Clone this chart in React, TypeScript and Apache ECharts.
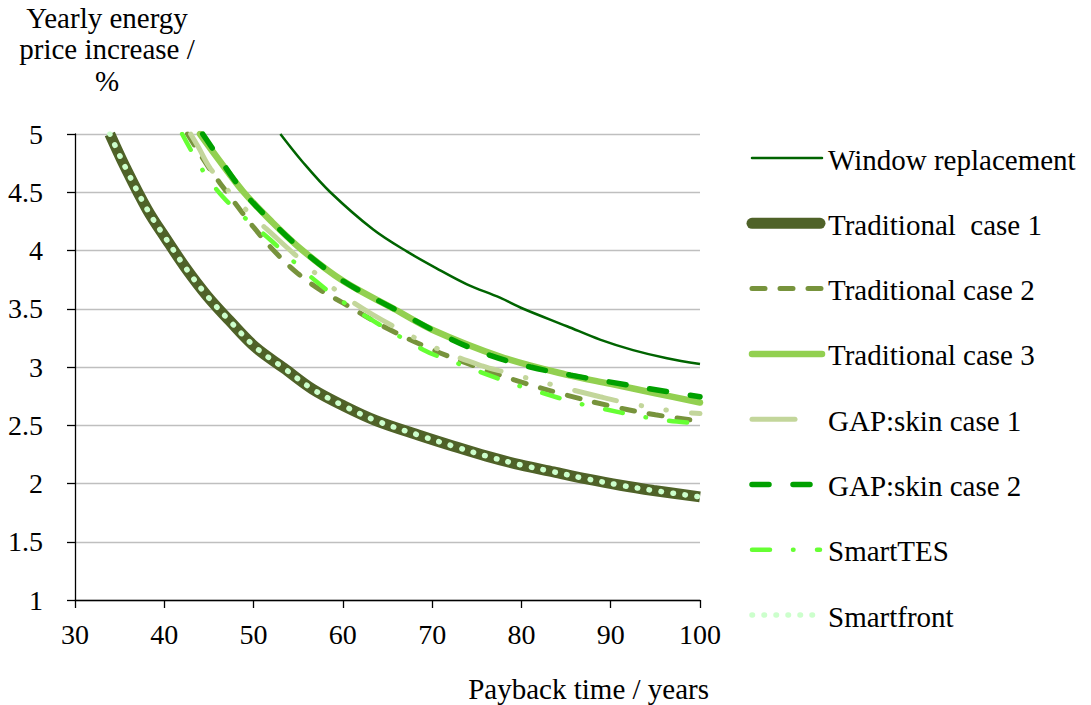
import React, { useEffect, useRef } from "react";
import * as echarts from "echarts";

const FONT = "Times New Roman";

// ---- axis ticks ----
const xTicks = { min: 30, max: 100, interval: 10 };
const yTicks = { min: 1, max: 5, interval: 0.5 };

// ---- series names ----
const seriesNames = [
  "Window replacement",
  "Traditional  case 1",
  "Traditional case 2",
  "Traditional case 3",
  "GAP:skin case 1",
  "GAP:skin case 2",
  "SmartTES",
  "Smartfront",
];

// ---- series values (payback time / years , yearly price increase / %) ----
const windowX = [53.0, 55.5, 58.6, 63.4, 67.2, 70.9, 73.9, 77.6, 80.2, 85.1, 88.8, 92.5, 96.3, 100];
const windowY = [5.0, 4.76, 4.5, 4.18, 3.99, 3.83, 3.71, 3.595, 3.5, 3.35, 3.235, 3.145, 3.075, 3.025];

const trad1X = [33.9, 35.6, 38.1, 40.2, 42.4, 44.8, 47.4, 50.2, 53.4, 56.6, 60.0, 63.7, 68.7, 72.4, 76.1, 79.9, 83.6, 87.3, 91.1, 94.8, 100];
const trad1Y = [5.0, 4.72, 4.35, 4.1, 3.85, 3.61, 3.39, 3.17, 2.99, 2.81, 2.67, 2.54, 2.41, 2.32, 2.235, 2.16, 2.1, 2.04, 1.985, 1.94, 1.885];

const trad2X = [42.6, 45, 47.5, 50, 52.5, 55, 57.5, 60, 65, 70, 75, 80, 85, 90, 95, 100];
const trad2Y = [5.0, 4.71, 4.45, 4.2, 3.98, 3.8, 3.66, 3.55, 3.33, 3.15, 3.0, 2.87, 2.76, 2.665, 2.59, 2.535];

const trad3X = [44.0, 46, 48.9, 52, 55.5, 60, 65.7, 70, 77.6, 85, 90, 95, 100];
const trad3Y = [5.0, 4.79, 4.5, 4.25, 4.0, 3.74, 3.5, 3.32, 3.09, 2.935, 2.855, 2.775, 2.695];

const gap1X = [42.95, 43.8, 45.2, 48.7, 52.6, 54.8, 58.8, 63.3, 70.5, 75.6, 78.4, 83.6, 88.8, 91.7, 97, 100];
const gap1Y = [5.0, 4.89, 4.7, 4.385, 4.105, 3.953, 3.684, 3.452, 3.16, 3.009, 2.951, 2.845, 2.745, 2.694, 2.622, 2.6];

const gap2X = [44.3, 46, 48.9, 52, 55.5, 60, 65.7, 71.8, 76.5, 81, 85.5, 90, 94.2, 100];
const gap2Y = [5.0, 4.81, 4.5, 4.25, 4.0, 3.74, 3.5, 3.25, 3.1, 3.0, 2.93, 2.87, 2.815, 2.745];

const smartTesX = [42.0, 44.4, 46.6, 49.2, 51.9, 54.5, 57.1, 60, 69.05, 72.4, 75.8, 79.1, 82.5, 85.9, 89.4, 92.9, 96.5, 100];
const smartTesY = [5.0, 4.677, 4.457, 4.268, 4.09, 3.904, 3.73, 3.56, 3.146, 3.045, 2.946, 2.854, 2.774, 2.697, 2.637, 2.582, 2.539, 2.515];

const smartfrontX = [33.9, 35.6, 38.1, 40.2, 42.4, 44.8, 47.4, 50.2, 53.4, 56.6, 60.0, 63.7, 68.7, 72.4, 76.1, 79.9, 83.6, 87.3, 91.1, 94.8, 100];
const smartfrontY = [5.0, 4.72, 4.35, 4.1, 3.85, 3.61, 3.39, 3.17, 2.99, 2.81, 2.67, 2.54, 2.41, 2.32, 2.235, 2.16, 2.1, 2.04, 1.985, 1.94, 1.885];

// ---- styles ----
const styles = [
  { color: "#006400", width: 2.5, dash: "solid", cap: "butt", legendEnd: 822 },
  { color: "#4f6228", width: 11, dash: "solid", cap: "butt", legendEnd: 820 },
  { color: "#77933c", width: 5, dash: [13, 15], cap: "round", legendEnd: 821 },
  { color: "#92d050", width: 6.5, dash: "solid", cap: "round", legendEnd: 822 },
  { color: "#c3d69b", width: 5, dash: [43, 25, 0.5, 25, 0.5, 25], cap: "round", legendEnd: 798 },
  { color: "#00a000", width: 5.5, dash: [17, 24], cap: "round", legendEnd: 812 },
  { color: "#66ff33", width: 4.5, dash: [18, 23, 0.5, 23.5], cap: "round", legendEnd: 820 },
  { color: "#ccffcc", width: 5.5, dash: [0.5, 11.5], cap: "round", legendEnd: 813 },
];

const allX = [windowX, trad1X, trad2X, trad3X, gap1X, gap2X, smartTesX, smartfrontX];
const allY = [windowY, trad1Y, trad2Y, trad3Y, gap1Y, gap2Y, smartTesY, smartfrontY];

export default function App() {
  const ref = useRef<HTMLDivElement>(null);
  useEffect(() => {
    if (!ref.current) return;
    const chart = echarts.init(ref.current, undefined, { renderer: "svg" });

    const series = seriesNames.map((name, i) => {
      const s: any = styles[i];
      return {
        name,
        type: "line",
        data: allX[i].map((x, k) => [x, allY[i][k]]),
        smooth: 0.35,
        showSymbol: false,
        symbol: "none",
        lineStyle: {
          color: s.color,
          width: s.width,
          type: s.dash,
          cap: s.cap,
        },
        z: 2 + i,
      };
    });

    const legendTop = 158;
    const legendGap = 65.3;
    const graphics: any[] = [];
    seriesNames.forEach((name, i) => {
      const s: any = styles[i];
      const y = legendTop + i * legendGap;
      graphics.push({
        type: "line",
        shape: { x1: 752, y1: y, x2: s.legendEnd, y2: y },
        style: {
          stroke: s.color,
          lineWidth: s.width,
          lineDash: s.dash === "solid" ? null : s.dash,
          lineCap: "round",
        },
      });
      graphics.push({
        type: "text",
        x: 828,
        y: y - 13,
        style: {
          text: name,
          fontFamily: FONT,
          fontSize: 29,
          fill: "#000",
        },
      });
    });
    const yTitle = ["Yearly energy", "price increase /", "%"];
    yTitle.forEach((t, i) => {
      graphics.push({
        type: "text",
        x: 107,
        y: 3 + i * 31.7,
        style: {
          text: t,
          fontFamily: FONT,
          fontSize: 29,
          fill: "#000",
          align: "center",
        },
      });
    });
    graphics.push({
      type: "text",
      x: 709,
      y: 674.5,
      style: {
        text: "Payback time / years",
        fontFamily: FONT,
        fontSize: 29,
        fill: "#000",
        align: "right",
      },
    });

    chart.setOption({
      animation: false,
      grid: { left: 75, top: 134, width: 625, height: 466, outerBoundsMode: "none" },
      xAxis: {
        type: "value",
        min: xTicks.min,
        max: xTicks.max,
        interval: xTicks.interval,
        axisLine: { show: true, lineStyle: { color: "#000", width: 1.3 } },
        axisTick: { show: true, length: 8, inside: false, lineStyle: { color: "#000", width: 1.3 } },
        axisLabel: { fontFamily: FONT, fontSize: 28, color: "#000", margin: 20 },
        splitLine: { show: false },
      },
      yAxis: {
        type: "value",
        min: yTicks.min,
        max: yTicks.max,
        interval: yTicks.interval,
        axisLine: { show: true, lineStyle: { color: "#000", width: 1.3 } },
        axisTick: { show: true, length: 8, inside: false, lineStyle: { color: "#000", width: 1.3 } },
        axisLabel: { fontFamily: FONT, fontSize: 28, color: "#000", margin: 32 },
        splitLine: { show: true, lineStyle: { color: "#bfbfbf", width: 1.3 } },
      },
      graphic: graphics,
      series,
    });
    return () => chart.dispose();
  }, []);
  return (
    <div
      ref={ref}
      style={{ position: "absolute", left: 0, top: 0, width: 1091, height: 705 }}
    />
  );
}
